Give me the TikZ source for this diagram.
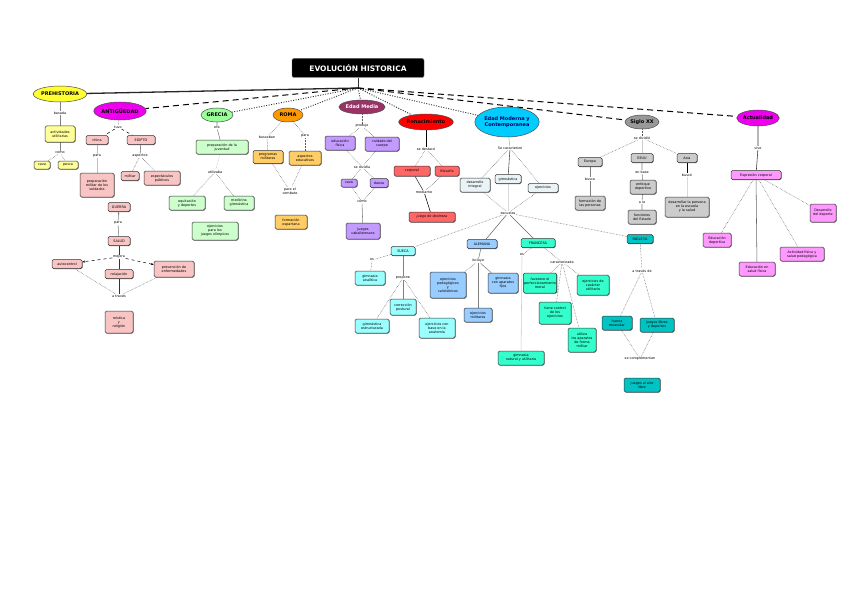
\documentclass[tikz,border=0pt]{standalone}
\usepackage{fontspec}
\setmainfont{DejaVu Sans}
\usetikzlibrary{shapes.geometric, shadows, arrows.meta}
\definecolor{amarillo}{HTML}{FFFF33}
\definecolor{amarilloc}{HTML}{FFFF99}
\definecolor{rosa}{HTML}{F9C4C4}
\definecolor{verde}{HTML}{99FF99}
\definecolor{verdec}{HTML}{CCFFCC}
\definecolor{naranja}{HTML}{FF9900}
\definecolor{naranjac}{HTML}{FFCC66}
\definecolor{granate}{HTML}{993366}
\definecolor{lila}{HTML}{C39BFF}
\definecolor{rojoc}{HTML}{FF6666}
\definecolor{celeste}{HTML}{00CCFF}
\definecolor{palido}{HTML}{EAF4F6}
\definecolor{cian}{HTML}{99FFFF}
\definecolor{azulc}{HTML}{99CCFF}
\definecolor{aguamar}{HTML}{33FFCC}
\definecolor{turquesa}{HTML}{00C4C4}
\definecolor{gris}{HTML}{999999}
\definecolor{grisc}{HTML}{CCCCCC}
\definecolor{fucsia}{HTML}{EE00EE}
\definecolor{fucsiac}{HTML}{FF99FF}
\pgfdeclarelayer{bg}
\pgfsetlayers{bg,main}
\tikzset{
  era/.style={ellipse, draw=black!70, line width=0.5pt, font=\fontsize{5}{5.5}\selectfont\bfseries, align=center, inner sep=0pt},
  caja/.style={rectangle, rounded corners=1.5pt, draw=black!80, line width=0.5pt, align=center,
    font=\fontsize{3.4}{4}\selectfont, inner sep=0.8pt,
    drop shadow={shadow xshift=0.6pt, shadow yshift=-0.6pt, opacity=0.8, fill=black!70}},
  etq/.style={font=\fontsize{3.4}{4}\selectfont, align=center, inner sep=0.5pt, fill=white},
  sz/.style 2 args={minimum width=#1, minimum height=#2},
  pto/.style={densely dotted, black!65, line width=0.5pt},
  lin/.style={black!50, line width=0.55pt},
  tramo/.style={black, line width=1pt, dash pattern=on 6pt off 4pt},
  punteo/.style={black!80, line width=0.9pt, dash pattern=on 1pt off 1.5pt},
}

\begin{document}
\begin{tikzpicture}[x=1pt, y=-1pt]
  \useasboundingbox (0,0) rectangle (848,599);
  % titulo
  \node[fill=black, text=white, rounded corners=2pt, font=\fontsize{7.5}{8}\selectfont\bfseries,
        sz={132}{19}, draw=black!60] (titulo) at (358,68) {EVOLUCIÓN HISTORICA};
  \coordinate (nudo) at (358,88);
  % epocas
  \node[era, fill=amarillo, sz={50}{16}] (prehistoria) at (60,94) {PREHISTORIA};
  \node[era, fill=fucsia, sz={50}{18}] (antiguedad) at (120,111) {ANTIGÜEDAD};
  \node[era, fill=verde, sz={32}{14}] (grecia) at (217,115) {GRECIA};
  \node[era, fill=naranja, sz={30}{14}] (roma) at (288,115) {ROMA};
  \node[era, fill=granate, text=white, sz={42}{14}] (media) at (362,107) {Edad Media};
  \node[era, fill=red, sz={48}{16}] (renacimiento) at (426,122) {Renacimiento};
  \node[era, fill=celeste, text=blue!40!black, sz={58}{30}] (moderna) at (507,122) {Edad Moderna y\\Contemporanea};
  \node[era, fill=gris, sz={34}{14}] (siglo) at (642,122) {Siglo XX};
  \node[era, fill=fucsia, sz={40}{16}] (actualidad) at (758,118) {Actualidad};

  % prehistoria
  \node[etq] (pre1) at (60,113) {basada};
  \node[caja, fill=amarilloc, sz={30}{16}] (pre2) at (60,134) {actividades\\utilitarias};
  \node[etq] (pre3) at (60,153) {como};
  \node[caja, fill=amarilloc, sz={16}{8}] (pre4) at (42,165) {caza};
  \node[caja, fill=amarilloc, sz={20}{8}] (pre5) at (68,165) {pesca};

  % antiguedad
  \node[etq] (ant1) at (118,127) {tuvo};
  \node[caja, fill=rosa, sz={22}{9}] (ant2) at (97,140) {china};
  \node[caja, fill=rosa, sz={28}{9}] (ant3) at (141,140) {EGIPTO};
  \node[etq] (ant4) at (97,156) {para};
  \node[caja, fill=rosa, sz={34}{24}] (ant5) at (97,185) {preparación\\militar de los\\soldados};
  \node[etq] (ant6) at (140,156) {aspectos};
  \node[caja, fill=rosa, sz={18}{9}] (ant7) at (130,176) {militar};
  \node[caja, fill=rosa, sz={36}{14}] (ant8) at (162,178) {espectáculos\\públicos};
  \node[caja, fill=rosa, sz={22}{9}] (ant9) at (119,207) {GUERRA};
  \node[etq] (ant10) at (118,223) {para};
  \node[caja, fill=rosa, sz={22}{9}] (ant11) at (119,241) {SALUD};
  \node[etq] (ant12) at (119,257) {mejora};
  \node[caja, fill=rosa, sz={30}{9}] (ant13) at (67,264) {autocontrol};
  \node[caja, fill=rosa, sz={28}{9}] (ant14) at (119,274) {relajación};
  \node[caja, fill=rosa, sz={40}{16}] (ant15) at (174,269) {prevención de\\enfermedades};
  \node[etq] (ant16) at (119,296) {a través};
  \node[caja, fill=rosa, sz={28}{22}] (ant17) at (119,322) {mística\\y\\religión};

  % grecia
  \node[etq] (gre1) at (217,128) {era};
  \node[caja, fill=verdec, sz={52}{14}] (gre2) at (222,147) {preparación de la\\juventud};
  \node[etq] (gre3) at (215,172) {utilizaba};
  \node[caja, fill=verdec, sz={36}{14}] (gre4) at (187,203) {equitación\\y deportes};
  \node[caja, fill=verdec, sz={30}{14}] (gre5) at (239,203) {medicina\\gimnástica};
  \node[caja, fill=verdec, sz={46}{18}] (gre6) at (215,231) {ejercicios\\para los\\juegos olímpicos};

  % roma
  \node[etq] (rom1) at (267,137) {buscaban};
  \node[etq] (rom2) at (305,136) {para};
  \node[caja, fill=naranjac, sz={30}{13}] (rom3) at (268,157) {programas\\militares};
  \node[caja, fill=naranjac, sz={32}{14}] (rom4) at (305,158) {aspectos\\educativos};
  \node[etq] (rom5) at (290,191) {para el\\combate};
  \node[caja, fill=naranjac, sz={32}{14}] (rom6) at (291,222) {formación\\espartana};

  % edad media
  \node[etq] (med1) at (362,126) {produjo};
  \node[caja, fill=lila, sz={30}{14}] (med2) at (340,143) {educación\\física};
  \node[caja, fill=lila, sz={34}{14}] (med3) at (382,144) {cuidado del\\cuerpo};
  \node[etq] (med4) at (362,167) {se dividía};
  \node[caja, fill=lila, sz={16}{8}] (med5) at (349,183) {caza};
  \node[caja, fill=lila, sz={18}{9}] (med6) at (379,183) {danza};
  \node[etq] (med7) at (362,202) {como};
  \node[caja, fill=lila, sz={34}{16}] (med8) at (363,231) {juegos\\caballerescos};

  % renacimiento
  \node[etq] (ren1) at (426,149) {se destacó};
  \node[caja, fill=rojoc, sz={36}{10}] (ren2) at (412,171) {corporal};
  \node[caja, fill=rojoc, sz={24}{10}] (ren3) at (447,171) {filosofía};
  \node[etq] (ren4) at (424,192) {mediante};
  \node[caja, fill=rojoc, sz={46}{10}, font=\fontsize{3.4}{4}\selectfont\itshape] (ren5) at (432,217) {juego de destreza};

  % edad moderna
  \node[etq] (mod1) at (510,148) {Se caracterizó};
  \node[caja, fill=palido, sz={30}{14}] (mod2) at (475,185) {desarrollo\\integral};
  \node[caja, fill=palido, sz={26}{9}] (mod3) at (508,179) {gimnástica};
  \node[caja, fill=palido, sz={30}{9}] (mod4) at (543,188) {ejercicios};
  \node[etq] (mod5) at (508,213) {escuelas};

  % escuela sueca
  \node[caja, fill=cian, sz={24}{9}] (sue) at (403,251) {SUECA};
  \node[etq] (sue1) at (372,260) {es};
  \node[caja, fill=cian, sz={30}{14}] (sue2) at (370,278) {gimnasia\\analítica};
  \node[etq] (sue3) at (403,278) {propone};
  \node[caja, fill=cian, sz={26}{16}] (sue4) at (403,307) {corrección\\postural};
  \node[caja, fill=cian, sz={34}{14}] (sue5) at (372,326) {gimnástica\\estructurada};
  \node[caja, fill=cian, sz={36}{20}] (sue6) at (437,328) {ejercicios con\\base en la\\anatomía};

  % escuela alemana
  \node[caja, fill=azulc, sz={30}{9}] (ale) at (482,244) {ALEMANA};
  \node[etq] (ale1) at (478,261) {incluye};
  \node[caja, fill=azulc, sz={36}{26}] (ale2) at (448,285) {ejercicios\\pedagógicos\\y\\calisténicos};
  \node[caja, fill=azulc, sz={30}{20}] (ale3) at (503,283) {gimnasia\\con aparatos\\fijos};
  \node[caja, fill=azulc, sz={28}{14}] (ale4) at (478,315) {ejercicios\\militares};

  % escuela francesa
  \node[caja, fill=aguamar, sz={34}{9}] (fra) at (538,243) {FRANCESA};
  \node[etq] (fra1) at (522,255) {es};
  \node[caja, fill=aguamar, sz={46}{14}] (fra2) at (521,358) {gimnasia\\natural y utilitaria};
  \node[etq] (fra3) at (562,262) {caracterizada};
  \node[caja, fill=aguamar, sz={30}{20}] (fra4) at (540,283) {favorece el\\perfeccionamiento\\moral};
  \node[caja, fill=aguamar, sz={32}{20}] (fra5) at (593,285) {ejercicios de\\carácter\\utilitario};
  \node[caja, fill=aguamar, sz={32}{22}] (fra6) at (555,313) {tiene control\\de los\\ejercicios};
  \node[caja, fill=aguamar, sz={28}{24}] (fra7) at (582,340) {utiliza\\los aparatos\\de forma\\militar};

  % escuela inglesa
  \node[caja, fill=turquesa, sz={26}{9}] (ing) at (640,239) {INGLESA};
  \node[etq] (ing1) at (642,271) {a través de};
  \node[caja, fill=turquesa, sz={30}{14}] (ing2) at (617,323) {fuerza\\muscular};
  \node[caja, fill=turquesa, sz={34}{14}] (ing3) at (657,325) {juegos libres\\y deportes};
  \node[etq] (ing4) at (640,359) {se complementan};
  \node[caja, fill=turquesa, sz={36}{14}] (ing5) at (642,385) {juegos al aire\\libre};

  % siglo xx
  \node[etq] (sig1) at (642,138) {se dividió};
  \node[caja, fill=grisc, sz={24}{9}] (sig2) at (590,162) {Europa};
  \node[etq] (sig3) at (590,179) {busca};
  \node[caja, fill=grisc, sz={30}{14}] (sig4) at (590,203) {formación de\\las personas};
  \node[caja, fill=grisc, sz={22}{9}] (sig5) at (642,158) {EEUU};
  \node[etq] (sig6) at (642,172) {en base};
  \node[caja, fill=grisc, sz={26}{14}] (sig7) at (643,187) {enfoque\\deportivo};
  \node[etq] (sig8) at (642,202) {a la};
  \node[caja, fill=grisc, sz={28}{14}] (sig9) at (642,217) {funciones\\del Estado};
  \node[caja, fill=grisc, sz={20}{9}] (sig10) at (687,158) {Asia};
  \node[etq] (sig11) at (687,175) {buscó};
  \node[caja, fill=grisc, sz={44}{20}] (sig12) at (687,207) {desarrollar la persona\\en la escuela\\y la salud};

  % actualidad
  \node[etq] (act1) at (758,148) {vive};
  \node[caja, fill=fucsiac, sz={50}{9}] (act2) at (756,175) {Expresión corporal};
  \node[caja, fill=fucsiac, sz={28}{14}] (act3) at (717,240) {Educación\\deportiva};
  \node[caja, fill=fucsiac, sz={36}{14}] (act4) at (757,269) {Educación en\\salud física};
  \node[caja, fill=fucsiac, sz={44}{14}] (act5) at (802,254) {Actividad física y\\salud pedagógica};
  \node[caja, fill=fucsiac, sz={26}{18}] (act6) at (823,213) {Desarrollo\\del deporte};

  \begin{pgfonlayer}{bg}
    \fill[white] (0,0) rectangle (848,599);
    % enlaces del titulo
    \draw[lin, black!80] (titulo) -- (nudo);
    \draw[black!85, line width=1.3pt] (nudo) -- (prehistoria);
    \draw[tramo] (nudo) -- (antiguedad);
    \draw[punteo] (nudo) -- (grecia);
    \draw[punteo] (nudo) -- (roma);
    \draw[punteo] (nudo) -- (media);
    \draw[punteo] (nudo) -- (renacimiento);
    \draw[punteo] (nudo) -- (moderna);
    \draw[tramo] (nudo) -- (siglo);
    \draw[tramo] (nudo) -- (actualidad);
    % prehistoria
    \draw[lin] (prehistoria) -- (pre1) -- (pre2) -- (pre3);
    \draw[pto] (pre3) -- (pre4);
    \draw[pto] (pre3) -- (pre5);
    % antiguedad
    \draw[pto] (antiguedad) -- (ant1);
    \draw[black, dashed, line width=0.5pt] (ant1) -- (ant2);
    \draw[black, dashed, line width=0.5pt] (ant1) -- (ant3);
    \draw[lin, black!25] (ant2) -- (ant4) -- (ant5);
    \draw[lin, black!60] (ant3) -- (ant6);
    \draw[pto] (ant6) -- (ant7);
    \draw[pto] (ant6) -- (ant8);
    \draw[lin] (ant11) -- (ant10);
    \draw[lin, -{Stealth[length=2.5pt]}] (ant10) -- (ant9);
    \draw[lin, black!80] (ant11) -- (ant12) -- (ant14) -- (ant16);
    \draw[black, dashed, line width=0.5pt, -{Stealth[length=3pt]}] (ant12) -- (ant13);
    \draw[black, dashed, line width=0.5pt, -{Stealth[length=3pt]}] (ant12) -- (ant15);
    \draw[pto] (ant13) -- (ant16);
    \draw[pto] (ant15) -- (ant16);
    % grecia
    \draw[lin] (grecia) -- (gre1) -- (gre2);
    \draw[pto, black!30] (gre2) -- (gre3);
    \draw[pto] (gre3) -- (gre4);
    \draw[pto] (gre3) -- (gre5);
    % roma
    \draw[pto] (roma) -- (rom1);
    \draw[pto] (roma) -- (rom2);
    \draw[pto] (rom1) -- (rom3);
    \draw[pto] (rom2) -- (rom4);
    \draw[pto] (rom3) -- (rom5);
    \draw[pto] (rom4) -- (rom5);
    % edad media
    \draw[pto] (media) -- (med1);
    \draw[pto] (med1) -- (med2);
    \draw[pto] (med1) -- (med3);
    \draw[pto] (med2) -- (med4);
    \draw[pto] (med3) -- (med4);
    \draw[pto] (med4) -- (med5);
    \draw[pto] (med4) -- (med6);
    \draw[pto] (med5) -- (med7);
    \draw[pto] (med6) -- (med7);
    \draw[lin] (med7) -- (med8);
    % renacimiento
    \draw[lin, black] (renacimiento) -- (ren1);
    \draw[pto] (ren1) -- (ren2);
    \draw[pto] (ren1) -- (ren3);
    \draw[lin, black!80] (ren2) -- (ren4);
    \draw[pto] (ren3) -- (ren4);
    \draw[lin, black] (ren4) -- (ren5);
    % edad moderna
    \draw[lin, black!30] (moderna) -- (mod1);
    \draw[pto] (mod1) -- (mod2);
    \draw[lin, black!70] (mod1) -- (mod3);
    \draw[pto] (mod1) -- (mod4);
    \draw[pto] (mod2) -- (mod5);
    \draw[lin, black!15] (mod3) -- (mod5);
    \draw[pto] (mod4) -- (mod5);
    \draw[pto] (mod5) -- (sue);
    \draw[lin, black!60] (mod5) -- (ale);
    \draw[lin, black!60] (mod5) -- (fra);
    \draw[pto] (mod5) -- (ing);
    % sueca
    \draw[pto] (sue) -- (sue1) -- (sue2);
    \draw[lin] (sue) -- (sue3);
    \draw[pto] (sue3) -- (sue5);
    \draw[lin] (sue3) -- (sue4);
    \draw[pto] (sue3) -- (sue6);
    % alemana
    \draw[lin] (ale) -- (ale1);
    \draw[pto] (ale1) -- (ale2);
    \draw[lin] (ale1) -- (ale4);
    \draw[lin] (ale1) -- (ale3);
    % francesa
    \draw[pto] (fra) -- (fra1);
    \draw[lin, black!20] (fra1) -- (fra2);
    \draw[pto] (fra) -- (fra3);
    \draw[pto] (fra3) -- (fra4);
    \draw[pto] (fra3) -- (fra5);
    \draw[pto] (fra3) -- (fra6);
    \draw[pto] (fra3) -- (fra7);
    % inglesa
    \draw[pto] (ing) -- (ing1);
    \draw[pto] (ing1) -- (ing2);
    \draw[pto] (ing1) -- (ing3);
    \draw[pto] (ing2) -- (ing4);
    \draw[pto] (ing3) -- (ing4);
    % siglo xx
    \draw[pto] (siglo) -- (sig1);
    \draw[pto] (sig1) -- (sig2);
    \draw[pto] (sig1) -- (sig10);
    \draw[lin, black!20] (sig1) -- (sig5);
    \draw[lin] (sig2) -- (sig3) -- (sig4);
    \draw[lin] (sig5) -- (sig6) -- (sig7) -- (sig8) -- (sig9);
    \draw[lin, black] (sig10) -- (sig11);
    \draw[lin, black!15] (sig11) -- (sig12);
    % actualidad
    \draw[lin, black!80] (actualidad) -- (act1) -- (act2);
    \draw[pto] (act2) -- (act3);
    \draw[lin, black!60] (act2) -- (act4);
    \draw[pto] (act2) -- (act5);
    \draw[pto] (act2) -- (act6);
  \end{pgfonlayer}
\end{tikzpicture}
\end{document}
